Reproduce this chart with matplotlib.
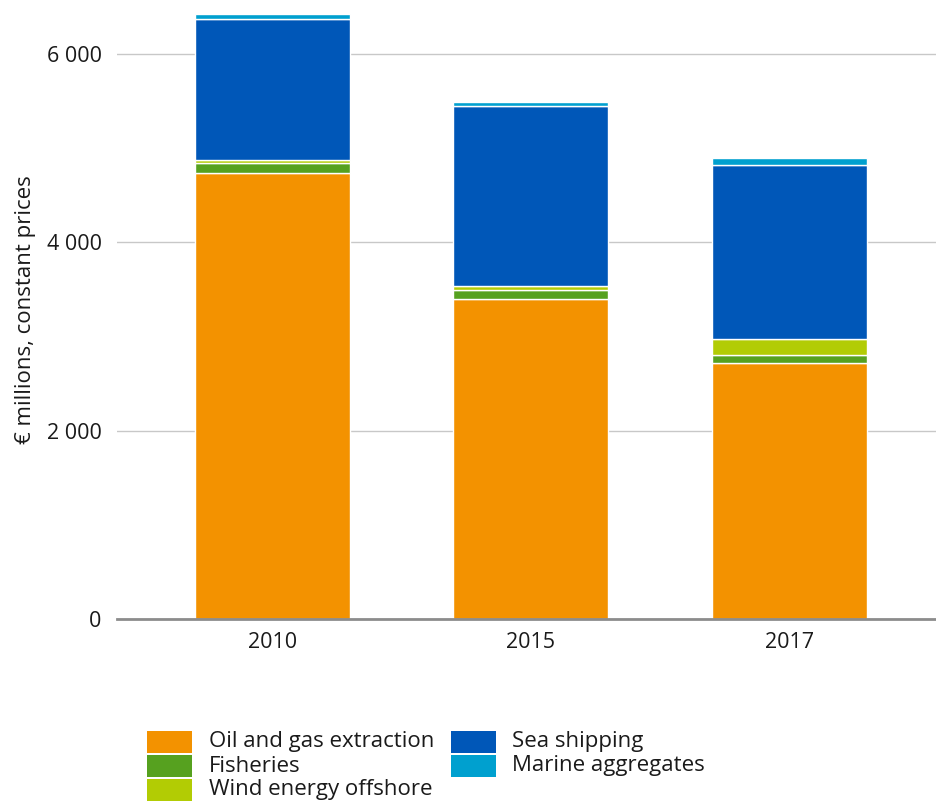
import matplotlib
matplotlib.use("Agg")
import matplotlib.pyplot as plt
from matplotlib.patches import Rectangle
from matplotlib.ticker import FuncFormatter

years = ["2010", "2015", "2017"]
oil_gas = [4737, 3395, 2719]
fisheries = [106, 94, 79]
wind = [32, 42, 172]
sea_shipping = [1497, 1912, 1848]
marine_aggr = [53, 44, 75]

series = [
    ("Oil and gas extraction", oil_gas, "#F39200"),
    ("Fisheries", fisheries, "#56A11F"),
    ("Wind energy offshore", wind, "#B2CC04"),
    ("Sea shipping", sea_shipping, "#0057B8"),
    ("Marine aggregates", marine_aggr, "#00A0CF"),
]

plt.rcParams['font.family'] = ['Open Sans', 'DejaVu Sans']
W, H = 937, 802
FS = 15.5

fig = plt.figure(figsize=(W/100, H/100), dpi=100)
ax = fig.add_axes([117/W, (H-619)/H, 1-117/W, 619/H])

x = list(range(len(years)))
bottom = [0]*len(years)
for name, vals, col in series:
    ax.bar(x, vals, width=0.6, bottom=bottom, color=col, edgecolor="white",
           linewidth=1, label=name, zorder=3)
    bottom = [bb + v for bb, v in zip(bottom, vals)]

ax.set_xlim(-0.6, 2.57)
ax.set_ylim(0, 6570)
ax.set_yticks([0, 2000, 4000, 6000])
ax.yaxis.set_major_formatter(FuncFormatter(lambda v, p: f"{int(v):,}".replace(",", " ")))
ax.set_xticks(x)
ax.set_xticklabels(years)
ax.grid(axis="y", color="#c8c8c8", linewidth=1, zorder=0)
for s in ["top", "right", "left"]:
    ax.spines[s].set_visible(False)
ax.spines["bottom"].set_color("#8c8c8c")
ax.spines["bottom"].set_linewidth(2)
ax.spines["bottom"].set_zorder(4)
ax.tick_params(axis="both", length=0, labelsize=FS, colors="#1a1a1a")
ax.tick_params(axis="y", pad=11)
ax.tick_params(axis="x", pad=9)
ax.set_ylabel("€ millions, constant prices", fontsize=FS+0.5, color="#1a1a1a", labelpad=8)

# legend (two columns, drawn as figure artists)
col_hx = [147, 451]
col_tx = [209, 512]
for i, (name, _, col) in enumerate(series):
    c = 0 if i < 3 else 1
    r = i if i < 3 else i - 3
    top = 731 + r*24
    fig.add_artist(Rectangle((col_hx[c]/W, 1-(top+22)/H), 45/W, 22/H,
                             transform=fig.transFigure, facecolor=col,
                             edgecolor="none"))
    fig.text(col_tx[c]/W, 1-(top+11)/H, name, fontsize=16, color="#1a1a1a",
             va="center", ha="left")

fig.savefig("out.png", dpi=100)
